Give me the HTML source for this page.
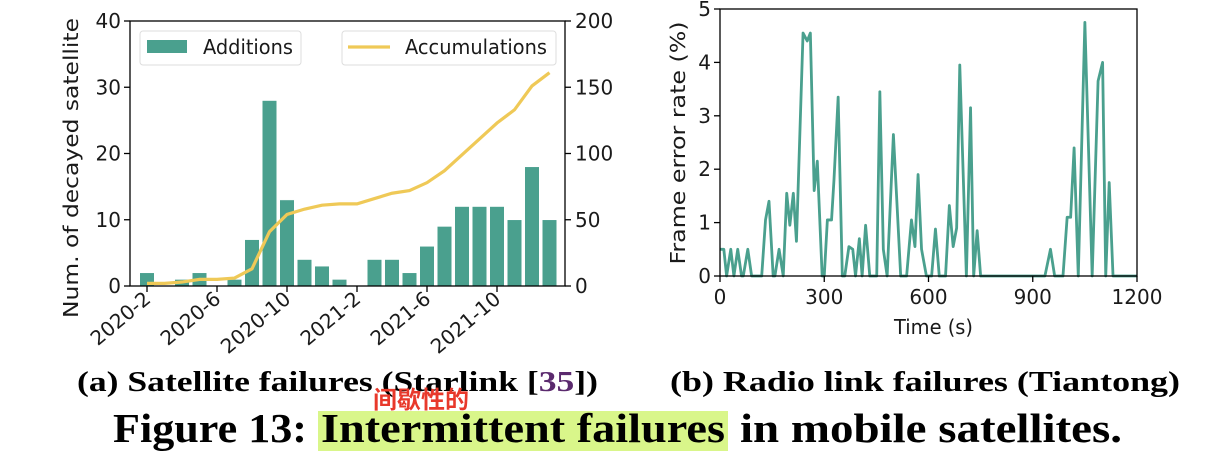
<!DOCTYPE html>
<html><head><meta charset="utf-8"><style>
body{margin:0;background:#fff;}
svg{display:block;}
.t{font-family:"DejaVu Sans","Liberation Sans",sans-serif;font-size:20px;fill:#1a1a1a;}
.cap{font-family:"Liberation Serif",serif;font-weight:bold;fill:#000;}
</style></head><body>
<svg id="fig" width="1216" height="458" xmlns="http://www.w3.org/2000/svg">
<g id="left"></g>
<g id="right"></g>
<text class="cap" x="77" y="391" font-size="29" textLength="521" lengthAdjust="spacingAndGlyphs">(a) Satellite failures (Starlink [<tspan fill="#5b2a6e">35</tspan>])</text>
<text class="cap" x="670" y="391" font-size="29" textLength="510" lengthAdjust="spacingAndGlyphs">(b) Radio link failures (Tiantong)</text>
<rect x="318" y="411" width="410" height="40" fill="#d9f68a"/>
<text class="cap" x="113" y="442" font-size="41" textLength="194" lengthAdjust="spacingAndGlyphs">Figure 13:</text>
<text class="cap" x="321" y="442" font-size="41" textLength="404" lengthAdjust="spacingAndGlyphs">Intermittent failures</text>
<text class="cap" x="740" y="442" font-size="41" textLength="382" lengthAdjust="spacingAndGlyphs">in mobile satellites.</text>
<text x="373" y="408" font-size="24" font-weight="bold" fill="#e8392b" font-family="'Liberation Sans','Noto Sans CJK SC',sans-serif">间歇性的</text>
</svg>
<script>
const months=["2020-2","2020-3","2020-4","2020-5","2020-6","2020-7","2020-8","2020-9","2020-10","2020-11","2020-12","2021-1","2021-2","2021-3","2021-4","2021-5","2021-6","2021-7","2021-8","2021-9","2021-10","2021-11","2021-12","2022-1"];
const additions=[2,0,1,2,0,1,7,28,13,4,3,1,0,4,4,2,6,9,12,12,12,10,18,10];
const accumulations=[2,2,3,5,5,6,13,41,54,58,61,62,62,66,70,72,78,87,99,111,123,133,151,161];
const leftTicks=[0,10,20,30,40];
const rightTicks=[0,50,100,150,200];
const xTickLabels=["2020-2","2020-6","2020-10","2021-2","2021-6","2021-10"];
const times=[0,11,19,31,40,51,62,67,80,91,120,131,141,153,158,170,182,192,201,211,220,239,251,260,271,280,294,300,309,321,328,340,352,359,371,382,390,401,409,419,431,451,460,470,481,499,520,537,551,561,570,580,594,609,620,631,649,660,671,681,690,709,721,730,740,750,935,951,963,987,999,1009,1019,1031,1050,1071,1088,1101,1110,1120,1131,1200];
const fer=[0.5,0.5,0,0.5,0,0.5,0,0,0.5,0,0,1.05,1.4,0,0,0.5,0,1.55,0.95,1.55,0.65,4.55,4.4,4.55,1.6,2.15,0,0,1.05,1.05,1.8,3.35,0,0,0.55,0.5,0,0.7,0,0.95,0,0,3.45,0.5,0,2.65,0,0,1.05,0.55,1.9,0.5,0,0,0.88,0,0,1.32,0.55,0.9,3.95,0,3.15,0,0.85,0,0,0.5,0,0,1.1,1.1,2.4,0,4.75,0,3.65,4.0,0,1.75,0,0];
const rTicksY=[0,1,2,3,4,5];
const rTicksX=[0,300,600,900,1200];
const NS="http://www.w3.org/2000/svg";
function mk(p,tag,a,txt){const e=document.createElementNS(NS,tag);for(const k in a)e.setAttribute(k,a[k]);if(txt!=null)e.textContent=txt;p.appendChild(e);return e;}
// LEFT
const L=document.getElementById('left');
const lx0=130,lx1=565,ly0=286,ly1=21;
const bx=i=>147+i*17.5;
const yl=v=>ly0-(v/40)*(ly0-ly1);
const yr=v=>ly0-(v/200)*(ly0-ly1);
additions.forEach((v,i)=>{if(v<=0)return;
const r=mk(L,'rect',{x:bx(i)-7.3,y:yl(v),width:14.6,height:ly0-yl(v),fill:'#4aa08e',stroke:'#fff','stroke-width':0.6});

});
const acc=mk(L,'polyline',{points:accumulations.map((v,i)=>bx(i)+','+yr(v)).join(' '),fill:'none',stroke:'#efc957','stroke-width':3.2});


const lf=mk(L,'rect',{x:lx0,y:ly1,width:lx1-lx0,height:ly0-ly1,fill:'none',stroke:'#000','stroke-width':1.3});


leftTicks.forEach(v=>{mk(L,'line',{x1:lx0-6,x2:lx0,y1:yl(v),y2:yl(v),stroke:'#000','stroke-width':1.3});
const t=mk(L,'text',{class:'t',x:lx0-9,y:yl(v)+7,'text-anchor':'end'},v);

});
rightTicks.forEach(v=>{mk(L,'line',{x1:lx1,x2:lx1+6,y1:yr(v),y2:yr(v),stroke:'#000','stroke-width':1.3});
const t=mk(L,'text',{class:'t',x:lx1+10,y:yr(v)+7},v);

});
xTickLabels.forEach(s=>{const i=months.indexOf(s),x=bx(i);
mk(L,'line',{x1:x,x2:x,y1:ly0,y2:ly0+6,stroke:'#000','stroke-width':1.3});
const t=mk(L,'text',{class:'t',x:x+5,y:ly0+15,'text-anchor':'end',transform:`rotate(-40 ${x+5} ${ly0+15})`,'font-size':'18'},s);

});
const yt=mk(L,'text',{class:'t',x:0,y:0,'text-anchor':'middle',transform:'translate(78 168) rotate(-90)','font-size':'21',textLength:'300',lengthAdjust:'spacingAndGlyphs'},'Num. of decayed satellite');


const lg1=mk(L,'g',{});


mk(lg1,'rect',{x:140,y:31,width:161,height:34,rx:3,fill:'#fff',stroke:'#ddd'});
mk(lg1,'rect',{x:147,y:40,width:40,height:13,fill:'#4aa08e'});
mk(lg1,'text',{class:'t',x:203,y:54,textLength:'90',lengthAdjust:'spacingAndGlyphs'},'Additions');
const lg2=mk(L,'g',{});


mk(lg2,'rect',{x:342,y:31,width:214,height:34,rx:3,fill:'#fff',stroke:'#ddd'});
mk(lg2,'line',{x1:348,x2:390,y1:47,y2:47,stroke:'#efc957','stroke-width':3.2});
mk(lg2,'text',{class:'t',x:405,y:54,textLength:'142',lengthAdjust:'spacingAndGlyphs'},'Accumulations');
// RIGHT
const R=document.getElementById('right');
const rx0=720,rx1=1137,ry0=276,ry1=9;
const xs=t=>rx0+t/1200*(rx1-rx0);
const ys=v=>ry0-v/5*(ry0-ry1);
const fl=mk(R,'polyline',{points:times.map((t,i)=>xs(t)+','+ys(fer[i])).join(' '),fill:'none',stroke:'#4aa08e','stroke-width':2.8,'stroke-linejoin':'round'});


const rf=mk(R,'rect',{x:rx0,y:ry1,width:rx1-rx0,height:ry0-ry1,fill:'none',stroke:'#000','stroke-width':1.3});


rTicksY.forEach(v=>{mk(R,'line',{x1:rx0-6,x2:rx0,y1:ys(v),y2:ys(v),stroke:'#000','stroke-width':1.3});
const t=mk(R,'text',{class:'t',x:rx0-9,y:ys(v)+7,'text-anchor':'end','font-size':'21'},v);

});
rTicksX.forEach(v=>{mk(R,'line',{x1:xs(v),x2:xs(v),y1:ry0,y2:ry0+6,stroke:'#000','stroke-width':1.3});
const t=mk(R,'text',{class:'t',x:xs(v),y:ry0+28,'text-anchor':'middle','font-size':'21'},v);

});
const xt=mk(R,'text',{class:'t',x:(rx0+rx1)/2+5,y:334,'text-anchor':'middle','font-size':'23',textLength:'79',lengthAdjust:'spacingAndGlyphs'},'Time (s)');


const yt2=mk(R,'text',{class:'t',x:0,y:0,'text-anchor':'middle',transform:'translate(685 143) rotate(-90)','font-size':'22',textLength:'243',lengthAdjust:'spacingAndGlyphs'},'Frame error rate (%)');


</script>
</body></html>
